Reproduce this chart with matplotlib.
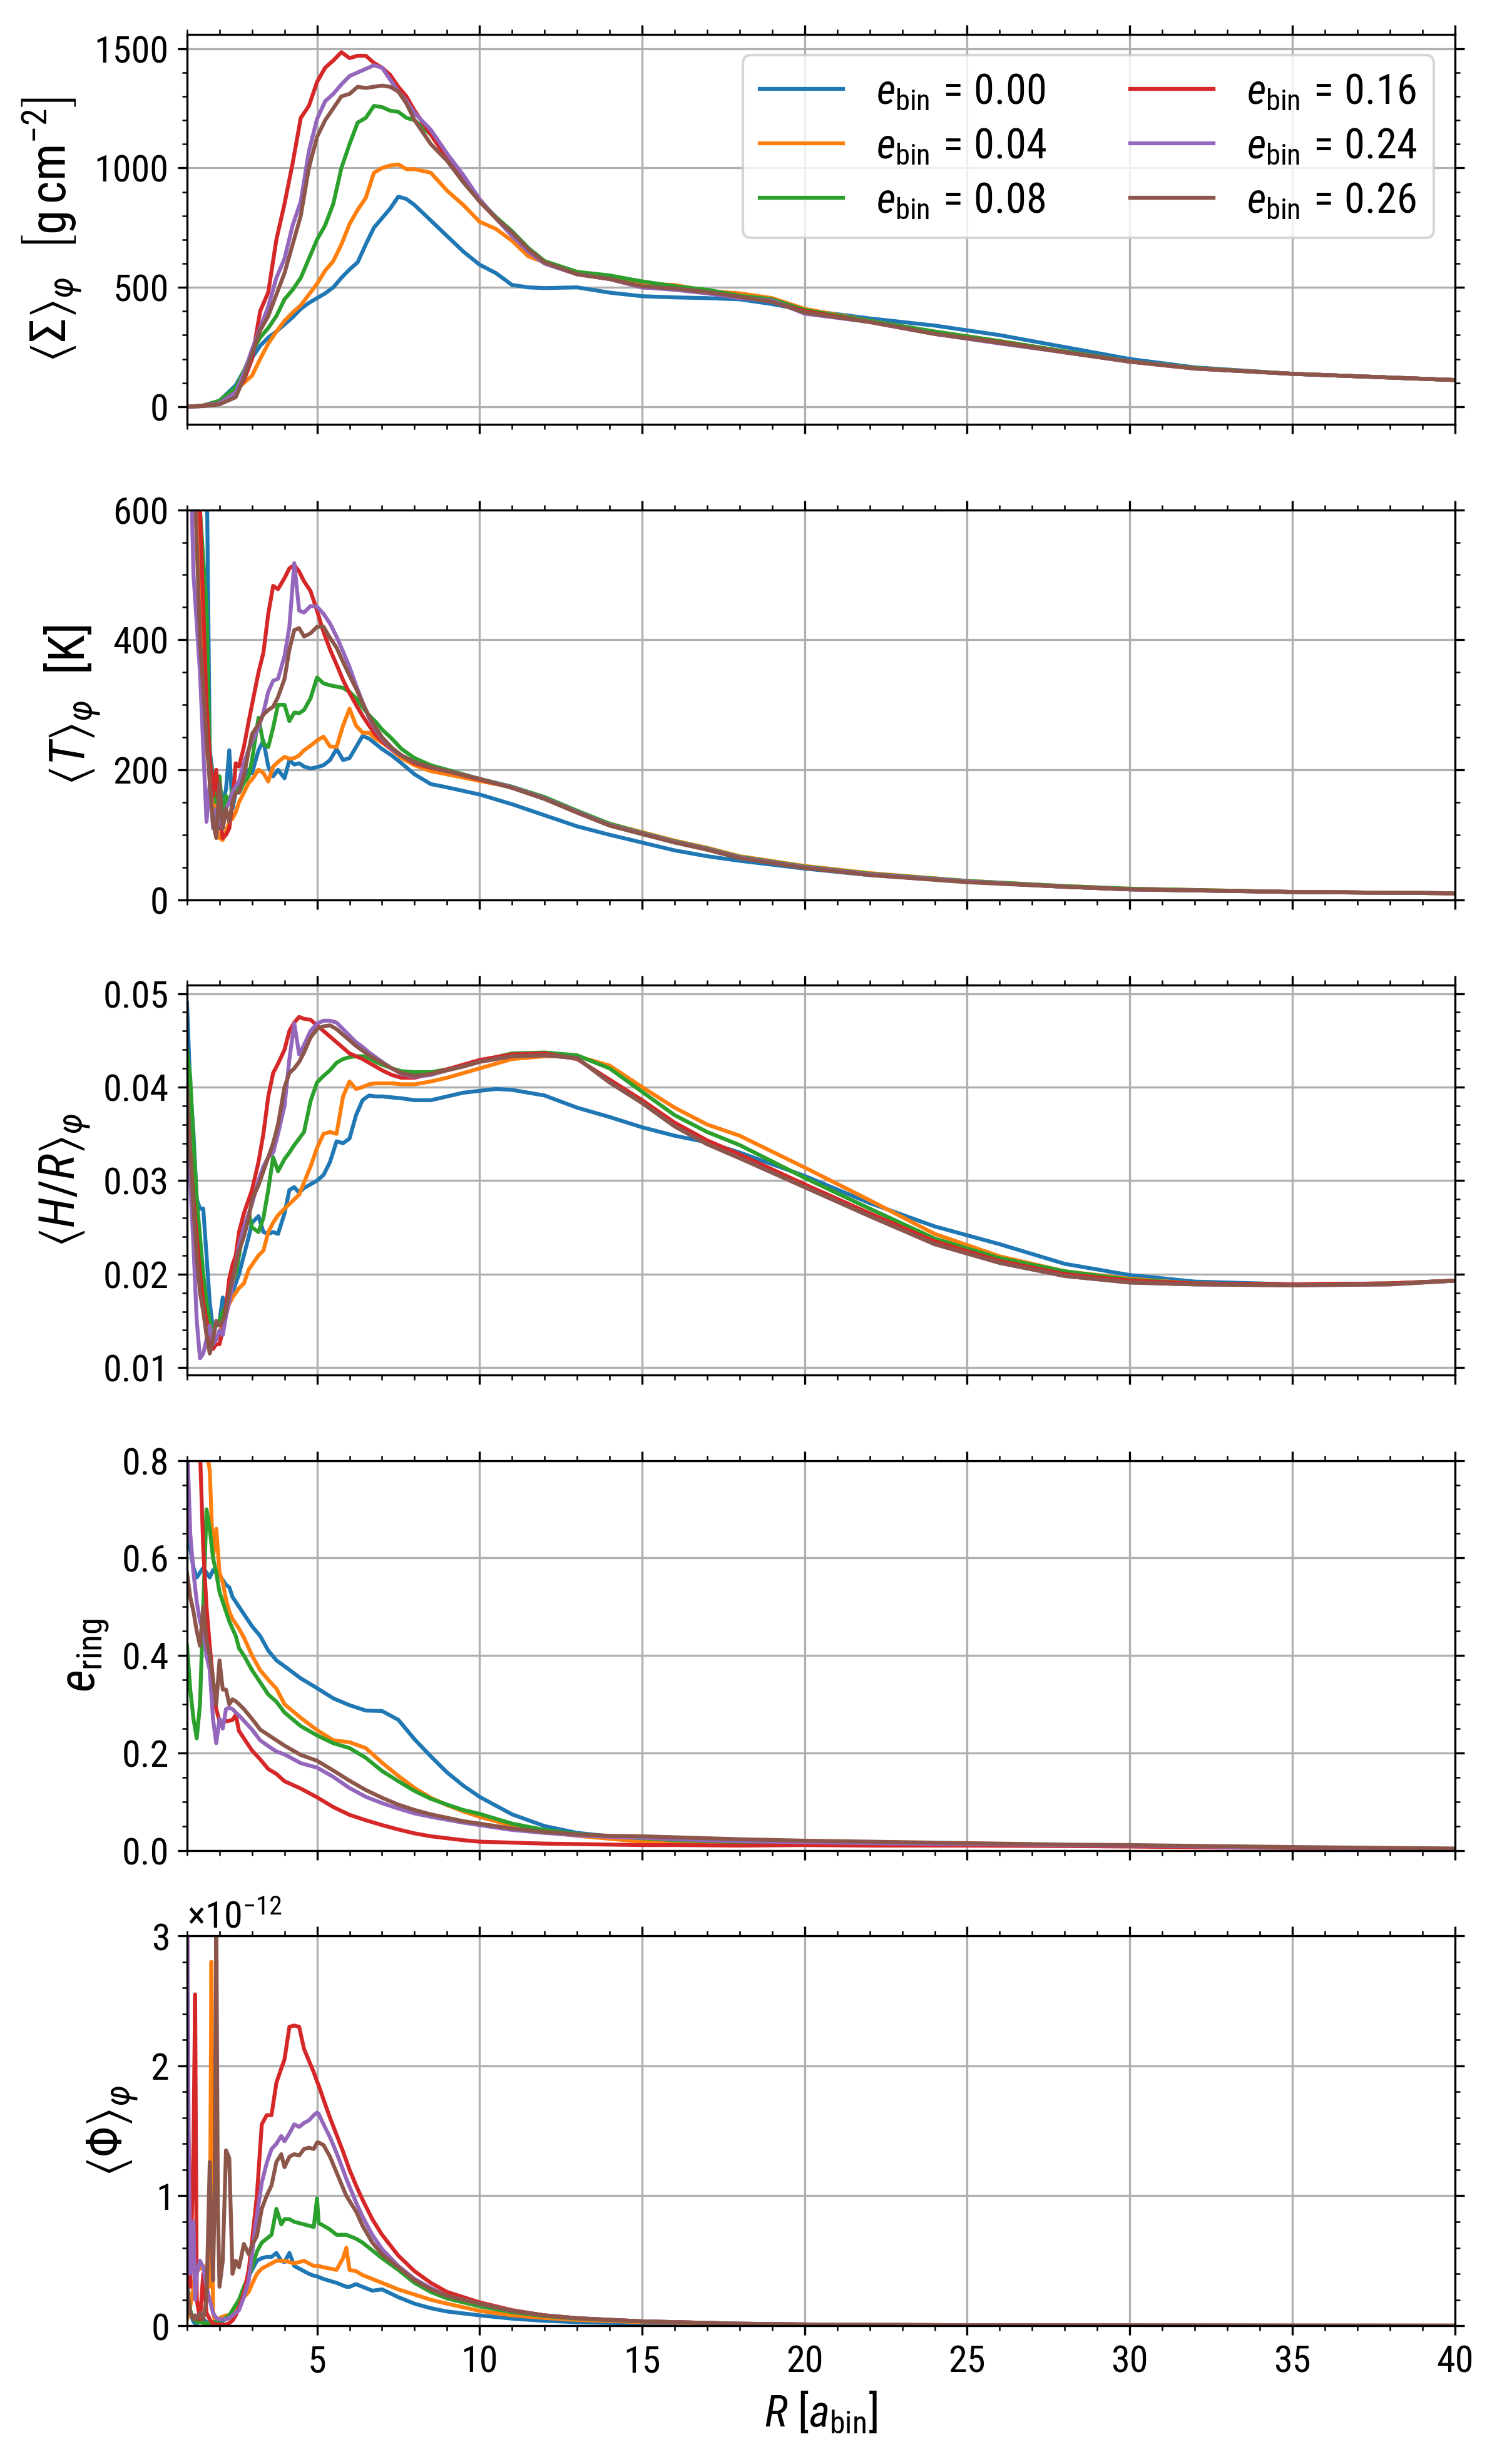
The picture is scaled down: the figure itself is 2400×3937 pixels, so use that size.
import numpy as np
import matplotlib
matplotlib.use('Agg')
import matplotlib.pyplot as plt
from matplotlib import font_manager
from matplotlib.ticker import MultipleLocator, ScalarFormatter

flist = font_manager.fontManager.ttflist
names = {f.name for f in flist}
narrow = [n for n in ['Liberation Sans Narrow', 'Roboto Condensed', 'Open Sans Condensed',
                      'Noto Sans Condensed'] if n in names]
base = narrow[0] if narrow else 'DejaVu Sans'
has_cond = any(f.name == base and str(f.stretch) in ('condensed', 'semi-condensed', '87.5', '75')
               for f in flist)
plt.rcParams['font.family'] = [base, 'DejaVu Sans']
if has_cond:
    plt.rcParams['font.stretch'] = 'condensed'
plt.rcParams['mathtext.fontset'] = 'custom'
plt.rcParams['mathtext.rm'] = base
plt.rcParams['mathtext.it'] = base + ':italic'
plt.rcParams['mathtext.bf'] = base + ':bold'
plt.rcParams['mathtext.sf'] = base
plt.rcParams['mathtext.fallback'] = 'stixsans'

ecc_labels = ['0.00', '0.04', '0.08', '0.16', '0.24', '0.26']
colors = ['C0', 'C1', 'C2', 'C3', 'C4', 'C5']

# ---------------- Panel 1: surface density ----------------
R1 = [1.0, 1.5, 2.0, 2.5, 2.75, 3.0, 3.25, 3.5, 3.75, 4.0,
      4.25, 4.5, 4.75, 5.0, 5.25, 5.5, 5.75, 6.0, 6.25, 6.5,
      6.75, 7.0, 7.25, 7.5, 7.75, 8.0, 8.5, 9.0, 9.5, 10.0,
      10.5, 11.0, 11.5, 12.0, 13.0, 14.0, 15.0, 16.0, 17.0, 18.0,
      19.0, 20.0, 22.0, 24.0, 26.0, 28.0, 30.0, 32.0, 35.0, 40.0]
sigma_000 = [0, 5, 25, 90, 150, 205, 255, 290, 315, 345,
             375, 410, 435, 455, 475, 500, 540, 575, 605, 680,
             750, 790, 830, 880, 870, 845, 780, 715, 650, 595,
             560, 510, 500, 497, 500, 478, 463, 458, 455, 450,
             430, 405, 370, 340, 300, 250, 200, 165, 138, 112]
sigma_004 = [0, 3, 20, 70, 100, 130, 200, 265, 315, 360,
             395, 425, 470, 515, 570, 610, 680, 765, 825, 875,
             980, 1000, 1010, 1015, 995, 995, 980, 905, 845, 775,
             745, 695, 630, 605, 565, 535, 515, 510, 485, 475,
             455, 410, 360, 315, 275, 232, 190, 162, 138, 112]
sigma_008 = [0, 5, 25, 80, 150, 230, 290, 330, 380, 450,
             490, 540, 620, 700, 760, 850, 1000, 1100, 1190, 1210,
             1260, 1255, 1240, 1235, 1210, 1200, 1140, 1045, 950, 865,
             795, 735, 665, 610, 565, 550, 525, 505, 490, 465,
             450, 405, 360, 315, 275, 232, 190, 162, 138, 112]
sigma_016 = [0, 5, 15, 60, 110, 200, 400, 480, 700, 850,
             1020, 1210, 1260, 1360, 1420, 1450, 1485, 1460, 1470, 1470,
             1440, 1420, 1390, 1340, 1300, 1240, 1140, 1040, 950, 860,
             790, 720, 650, 600, 555, 535, 500, 495, 480, 460,
             440, 400, 355, 305, 270, 228, 189, 160, 138, 112]
sigma_024 = [0, 3, 15, 60, 140, 240, 330, 420, 540, 620,
             760, 860, 1070, 1205, 1280, 1310, 1350, 1385, 1400, 1415,
             1430, 1420, 1370, 1320, 1280, 1230, 1160, 1060, 970, 870,
             790, 715, 650, 600, 555, 535, 500, 490, 475, 455,
             445, 390, 355, 305, 265, 228, 189, 160, 138, 112]
sigma_026 = [0, 3, 10, 40, 120, 220, 320, 380, 470, 560,
             680, 800, 1000, 1130, 1200, 1250, 1300, 1310, 1340, 1335,
             1340, 1345, 1340, 1320, 1270, 1200, 1100, 1030, 940, 860,
             790, 730, 660, 605, 555, 535, 505, 495, 480, 460,
             440, 395, 355, 305, 268, 228, 189, 160, 138, 112]

# ---------------- Panel 2: temperature ----------------
R2 = [1.0, 1.2, 1.4, 1.6, 1.7, 1.8, 1.9, 2.0, 2.1, 2.2,
      2.3, 2.4, 2.5, 2.6, 2.75, 2.9, 3.0, 3.2, 3.35, 3.5,
      3.65, 3.8, 4.0, 4.15, 4.3, 4.45, 4.6, 4.8, 5.0, 5.2,
      5.4, 5.6, 5.8, 6.0, 6.2, 6.4, 6.6, 6.8, 7.0, 7.3,
      7.6, 8.0, 8.5, 9.0, 10, 11, 12, 13, 14, 15,
      16, 17, 18, 20, 22, 25, 28, 30, 35, 40]
temp_000 = [2000, 1200, 900, 700, 230, 190, 150, 110, 150, 170,
            230, 140, 165, 175, 190, 200, 195, 230, 245, 205,
            190, 200, 187, 215, 208, 210, 205, 202, 204, 207,
            215, 232, 215, 218, 235, 252, 248, 240, 232, 222,
            210, 193, 178, 173, 162, 147, 130, 113, 100, 88,
            76, 67, 60, 48, 38, 28, 20, 16, 12, 10]
temp_004 = [1100, 700, 450, 230, 200, 180, 110, 95, 92, 105,
            120, 125, 135, 150, 165, 180, 185, 200, 195, 182,
            205, 212, 220, 217, 218, 222, 230, 237, 245, 251,
            236, 235, 268, 294, 268, 257, 257, 248, 242, 231,
            218, 207, 198, 193, 183, 173, 157, 136, 117, 104,
            91, 80, 67, 52, 41, 29, 21, 17, 12, 10]
temp_008 = [1200, 800, 600, 450, 220, 180, 150, 190, 130, 160,
            150, 170, 175, 165, 180, 190, 215, 280, 240, 235,
            265, 300, 300, 275, 288, 287, 292, 310, 342, 333,
            330, 328, 326, 320, 310, 296, 284, 274, 262, 248,
            232, 218, 207, 200, 186, 174, 158, 137, 117, 103,
            90, 79, 66, 51, 40, 29, 21, 17, 12, 10]
temp_016 = [1500, 900, 600, 300, 220, 160, 200, 130, 95, 100,
            110, 150, 210, 205, 235, 275, 300, 350, 380, 440,
            483, 478, 495, 510, 515, 505, 490, 475, 445, 412,
            385, 362, 338, 318, 300, 283, 268, 254, 244, 231,
            222, 210, 203, 198, 185, 173, 156, 135, 115, 102,
            89, 78, 65, 50, 39, 28, 20, 16, 12, 10]
temp_024 = [900, 500, 350, 120, 180, 110, 140, 120, 110, 140,
            150, 165, 175, 182, 210, 232, 243, 265, 288, 320,
            337, 340, 375, 420, 518, 445, 442, 452, 451, 440,
            425, 405, 382, 358, 330, 304, 280, 262, 248, 232,
            222, 212, 204, 198, 186, 173, 156, 135, 115, 102,
            89, 78, 65, 50, 39, 28, 20, 16, 12, 10]
temp_026 = [1000, 700, 400, 250, 180, 120, 95, 180, 110, 140,
            120, 150, 165, 165, 190, 230, 255, 270, 285, 292,
            297, 312, 340, 385, 415, 418, 405, 410, 420, 420,
            403, 388, 366, 345, 325, 303, 282, 265, 250, 234,
            222, 212, 204, 198, 186, 172, 155, 134, 114, 101,
            88, 77, 64, 49, 38, 27, 20, 16, 12, 10]

# ---------------- Panel 3: aspect ratio ----------------
R3 = [1.0, 1.1, 1.2, 1.3, 1.4, 1.5, 1.6, 1.7, 1.8, 1.9,
      2.0, 2.1, 2.2, 2.3, 2.4, 2.5, 2.6, 2.75, 2.9, 3.0,
      3.2, 3.35, 3.5, 3.65, 3.8, 4.0, 4.15, 4.3, 4.45, 4.6,
      4.8, 5.0, 5.2, 5.4, 5.6, 5.8, 6.0, 6.2, 6.4, 6.6,
      6.8, 7.0, 7.3, 7.6, 8.0, 8.5, 9.0, 9.5, 10, 10.5,
      11, 12, 13, 14, 15, 16, 17, 18, 20, 22,
      24, 26, 28, 30, 32, 35, 38, 40]
hr_000 = [0.049, 0.040, 0.035, 0.028, 0.027, 0.027, 0.022, 0.017, 0.014, 0.0145,
          0.015, 0.0175, 0.016, 0.017, 0.018, 0.019, 0.020, 0.022, 0.024, 0.0255,
          0.0262, 0.0245, 0.0243, 0.0245, 0.0243, 0.0265, 0.0290, 0.0293, 0.0287, 0.0292,
          0.0296, 0.0300, 0.0306, 0.0320, 0.0342, 0.0340, 0.0345, 0.0370, 0.0386, 0.0391,
          0.0390, 0.0390, 0.0389, 0.0388, 0.0386, 0.0386, 0.0390, 0.0394, 0.0396, 0.0398,
          0.0397, 0.0391, 0.0378, 0.0368, 0.0357, 0.0348, 0.0341, 0.0330, 0.0305, 0.0276,
          0.0251, 0.0232, 0.0211, 0.0199, 0.0192, 0.0189, 0.0190, 0.0193]
hr_004 = [0.038, 0.034, 0.030, 0.026, 0.022, 0.018, 0.0145, 0.012, 0.0125, 0.013,
          0.0135, 0.015, 0.016, 0.0168, 0.0175, 0.018, 0.0185, 0.019, 0.0205, 0.021,
          0.022, 0.0225, 0.0245, 0.0255, 0.0263, 0.027, 0.0275, 0.028, 0.0285, 0.0298,
          0.0315, 0.0335, 0.0350, 0.0352, 0.0350, 0.0390, 0.0406, 0.0398, 0.0400, 0.0403,
          0.0404, 0.0404, 0.0404, 0.0403, 0.0403, 0.0406, 0.0410, 0.0415, 0.0420, 0.0425,
          0.0430, 0.0433, 0.0433, 0.0423, 0.0400, 0.0378, 0.0360, 0.0348, 0.0314, 0.0279,
          0.0243, 0.0219, 0.0203, 0.0195, 0.0190, 0.0189, 0.0190, 0.0193]
hr_008 = [0.044, 0.041, 0.034, 0.028, 0.024, 0.020, 0.017, 0.015, 0.014, 0.0145,
          0.015, 0.016, 0.0165, 0.018, 0.019, 0.020, 0.022, 0.025, 0.0265, 0.025,
          0.0245, 0.026, 0.029, 0.0325, 0.031, 0.0323, 0.0330, 0.0338, 0.0345, 0.0352,
          0.0385, 0.0405, 0.0412, 0.0418, 0.0426, 0.0430, 0.0432, 0.0433, 0.0433, 0.0431,
          0.0427, 0.0424, 0.0420, 0.0417, 0.0416, 0.0416, 0.0419, 0.0423, 0.0428, 0.0432,
          0.0436, 0.0437, 0.0434, 0.0420, 0.0395, 0.0370, 0.0352, 0.0338, 0.0303, 0.0270,
          0.0238, 0.0217, 0.0203, 0.0194, 0.0190, 0.0189, 0.0190, 0.0193]
hr_016 = [0.039, 0.033, 0.028, 0.024, 0.020, 0.017, 0.015, 0.0135, 0.012, 0.0125,
          0.0125, 0.014, 0.0165, 0.0195, 0.021, 0.022, 0.0245, 0.0265, 0.028, 0.029,
          0.032, 0.035, 0.039, 0.0415, 0.0425, 0.0440, 0.0460, 0.0469, 0.0475, 0.0473,
          0.0472, 0.0466, 0.0460, 0.0454, 0.0448, 0.0442, 0.0436, 0.0433, 0.0430, 0.0426,
          0.0422, 0.0418, 0.0413, 0.0410, 0.0410, 0.0414, 0.0419, 0.0424, 0.0429, 0.0432,
          0.0435, 0.0436, 0.0430, 0.0408, 0.0386, 0.0362, 0.0343, 0.0328, 0.0296, 0.0265,
          0.0235, 0.0214, 0.0200, 0.0193, 0.0190, 0.0189, 0.0190, 0.0193]
hr_024 = [0.036, 0.030, 0.023, 0.015, 0.011, 0.0115, 0.013, 0.0145, 0.0125, 0.013,
          0.014, 0.0135, 0.0155, 0.017, 0.019, 0.021, 0.023, 0.025, 0.0265, 0.0275,
          0.030, 0.0315, 0.0325, 0.033, 0.035, 0.038, 0.043, 0.0468, 0.0435, 0.0445,
          0.0460, 0.0468, 0.0471, 0.0471, 0.0469, 0.0462, 0.0455, 0.0448, 0.0443, 0.0437,
          0.0432, 0.0427, 0.0420, 0.0414, 0.0411, 0.0413, 0.0418, 0.0422, 0.0427, 0.0430,
          0.0433, 0.0434, 0.0431, 0.0405, 0.0383, 0.0358, 0.0339, 0.0324, 0.0293, 0.0262,
          0.0232, 0.0212, 0.0198, 0.0191, 0.0189, 0.0188, 0.0189, 0.0193]
hr_026 = [0.040, 0.033, 0.027, 0.022, 0.018, 0.016, 0.0135, 0.0115, 0.013, 0.015,
          0.0145, 0.015, 0.016, 0.018, 0.0195, 0.021, 0.0225, 0.024, 0.026, 0.028,
          0.0295, 0.031, 0.0325, 0.034, 0.036, 0.040, 0.0415, 0.042, 0.0427, 0.0437,
          0.0453, 0.0462, 0.0465, 0.0466, 0.0462, 0.0456, 0.0450, 0.0444, 0.0439, 0.0434,
          0.0430, 0.0426, 0.0420, 0.0415, 0.0412, 0.0414, 0.0418, 0.0422, 0.0427, 0.0430,
          0.0433, 0.0434, 0.0431, 0.0405, 0.0383, 0.0358, 0.0339, 0.0324, 0.0293, 0.0262,
          0.0232, 0.0212, 0.0198, 0.0191, 0.0189, 0.0188, 0.0189, 0.0193]

# ---------------- Panel 4: ring eccentricity ----------------
R4 = [1.0, 1.1, 1.2, 1.3, 1.4, 1.5, 1.6, 1.7, 1.8, 1.9,
      2.0, 2.1, 2.2, 2.3, 2.4, 2.5, 2.6, 2.75, 3.0, 3.25,
      3.5, 3.75, 4.0, 4.5, 5.0, 5.5, 6.0, 6.5, 7.0, 7.5,
      8.0, 8.5, 9.0, 9.5, 10, 11, 12, 13, 14, 15,
      16, 18, 20, 22, 25, 28, 30, 35, 40]
ering_000 = [0.70, 0.62, 0.58, 0.56, 0.57, 0.58, 0.57, 0.56, 0.575, 0.57,
             0.565, 0.555, 0.545, 0.54, 0.52, 0.51, 0.50, 0.485, 0.46, 0.44,
             0.41, 0.39, 0.378, 0.353, 0.333, 0.312, 0.298, 0.287, 0.286, 0.268,
             0.228, 0.193, 0.160, 0.133, 0.110, 0.074, 0.050, 0.036, 0.029, 0.023,
             0.019, 0.015, 0.014, 0.013, 0.012, 0.010, 0.009, 0.006, 0.003]
ering_004 = [1.5, 1.3, 1.1, 0.95, 0.88, 0.85, 0.82, 0.78, 0.60, 0.66,
             0.57, 0.55, 0.515, 0.49, 0.475, 0.465, 0.455, 0.437, 0.40, 0.37,
             0.35, 0.332, 0.30, 0.272, 0.247, 0.226, 0.222, 0.21, 0.18, 0.153,
             0.128, 0.108, 0.093, 0.080, 0.069, 0.051, 0.038, 0.030, 0.024, 0.018,
             0.015, 0.012, 0.013, 0.013, 0.012, 0.010, 0.009, 0.006, 0.003]
ering_008 = [0.42, 0.33, 0.27, 0.23, 0.30, 0.50, 0.70, 0.66, 0.60, 0.57,
             0.53, 0.51, 0.49, 0.47, 0.455, 0.44, 0.415, 0.40, 0.37, 0.345,
             0.32, 0.305, 0.283, 0.255, 0.236, 0.22, 0.21, 0.19, 0.163, 0.142,
             0.122, 0.106, 0.094, 0.083, 0.075, 0.055, 0.042, 0.034, 0.029, 0.025,
             0.021, 0.017, 0.016, 0.014, 0.013, 0.011, 0.010, 0.006, 0.003]
ering_016 = [1.6, 1.3, 1.1, 0.95, 0.82, 0.62, 0.50, 0.42, 0.35, 0.29,
             0.265, 0.264, 0.265, 0.266, 0.268, 0.278, 0.245, 0.23, 0.205, 0.187,
             0.167, 0.157, 0.142, 0.127, 0.109, 0.089, 0.073, 0.062, 0.052, 0.043,
             0.035, 0.029, 0.025, 0.021, 0.018, 0.016, 0.014, 0.013, 0.012, 0.011,
             0.011, 0.010, 0.011, 0.010, 0.010, 0.009, 0.008, 0.005, 0.003]
ering_024 = [0.85, 0.65, 0.57, 0.51, 0.47, 0.45, 0.40, 0.37, 0.27, 0.22,
             0.27, 0.25, 0.29, 0.293, 0.29, 0.283, 0.277, 0.266, 0.248, 0.226,
             0.214, 0.203, 0.197, 0.179, 0.170, 0.151, 0.128, 0.110, 0.097, 0.086,
             0.076, 0.069, 0.063, 0.057, 0.052, 0.042, 0.036, 0.031, 0.028, 0.026,
             0.023, 0.019, 0.017, 0.015, 0.013, 0.011, 0.010, 0.006, 0.003]
ering_026 = [0.57, 0.52, 0.49, 0.45, 0.42, 0.50, 0.43, 0.40, 0.35, 0.30,
             0.39, 0.33, 0.33, 0.30, 0.31, 0.306, 0.30, 0.29, 0.27, 0.248,
             0.237, 0.226, 0.215, 0.196, 0.184, 0.164, 0.143, 0.124, 0.108, 0.094,
             0.083, 0.074, 0.067, 0.060, 0.055, 0.045, 0.038, 0.033, 0.030, 0.029,
             0.027, 0.023, 0.020, 0.018, 0.015, 0.012, 0.011, 0.007, 0.004]

# ---------------- Panel 5: Phi (in units of 1e-12) ----------------
R5 = [1.0, 1.05, 1.1, 1.2, 1.25, 1.3, 1.4, 1.5, 1.6, 1.7,
      1.75, 1.8, 1.85, 1.9, 1.95, 2.0, 2.1, 2.2, 2.3, 2.4,
      2.5, 2.6, 2.75, 2.9, 3.0, 3.15, 3.3, 3.45, 3.6, 3.75,
      3.9, 4.0, 4.15, 4.3, 4.45, 4.6, 4.75, 4.9, 5.0, 5.05,
      5.2, 5.4, 5.6, 5.8, 5.9, 6.0, 6.2, 6.4, 6.7, 7.0,
      7.5, 8.0, 8.5, 9.0, 10, 11, 12, 13, 15, 18,
      20, 25, 30, 35, 40]
phi_000 = [0.30, 0.25, 0.10, 0.03, 0.02, 0.02, 0.03, 0.05, 0.03, 0.02,
           0.03, 0.02, 0.03, 0.02, 0.02, 0.03, 0.04, 0.05, 0.06, 0.08,
           0.10, 0.14, 0.26, 0.38, 0.43, 0.50, 0.52, 0.53, 0.53, 0.56,
           0.50, 0.49, 0.56, 0.46, 0.44, 0.42, 0.40, 0.385, 0.38, 0.375,
           0.36, 0.345, 0.33, 0.31, 0.30, 0.30, 0.32, 0.30, 0.27, 0.28,
           0.22, 0.17, 0.135, 0.11, 0.08, 0.055, 0.038, 0.028, 0.016, 0.008,
           0.005, 0.002, 0.001, 0.0006, 0.0004]
phi_004 = [0.05, 0.08, 0.15, 0.30, 0.40, 0.42, 0.44, 0.46, 0.40, 0.30,
           2.80, 0.10, 0.05, 0.06, 0.05, 0.06, 0.07, 0.08, 0.08, 0.10,
           0.13, 0.17, 0.22, 0.26, 0.32, 0.40, 0.44, 0.46, 0.48, 0.50,
           0.50, 0.50, 0.49, 0.48, 0.49, 0.50, 0.48, 0.46, 0.46, 0.46,
           0.45, 0.44, 0.43, 0.52, 0.60, 0.43, 0.42, 0.39, 0.36, 0.33,
           0.28, 0.24, 0.20, 0.17, 0.115, 0.08, 0.06, 0.045, 0.028, 0.014,
           0.009, 0.004, 0.002, 0.001, 0.0006]
phi_008 = [0.10, 0.20, 0.12, 0.05, 0.04, 0.03, 0.03, 0.02, 0.02, 0.02,
           0.02, 0.02, 0.03, 0.03, 0.04, 0.04, 0.05, 0.06, 0.08, 0.12,
           0.16, 0.20, 0.30, 0.38, 0.45, 0.57, 0.64, 0.67, 0.70, 0.90,
           0.78, 0.82, 0.82, 0.80, 0.79, 0.78, 0.77, 0.76, 0.98, 0.79,
           0.77, 0.74, 0.70, 0.70, 0.70, 0.69, 0.67, 0.64, 0.58, 0.52,
           0.43, 0.33, 0.26, 0.21, 0.15, 0.105, 0.075, 0.055, 0.033, 0.016,
           0.010, 0.004, 0.002, 0.001, 0.0006]
phi_016 = [3.5, 1.0, 0.3, 1.4, 2.55, 0.2, 0.05, 0.40, 0.10, 0.05,
           0.03, 0.02, 0.01, 0.01, 0.01, 0.01, 0.01, 0.01, 0.02, 0.04,
           0.08, 0.14, 0.25, 0.43, 0.65, 1.00, 1.55, 1.62, 1.62, 1.87,
           1.98, 2.05, 2.30, 2.31, 2.30, 2.13, 2.04, 1.95, 1.88, 1.85,
           1.74, 1.60, 1.47, 1.34, 1.27, 1.20, 1.08, 0.97, 0.82, 0.70,
           0.54, 0.42, 0.33, 0.26, 0.18, 0.12, 0.08, 0.058, 0.034, 0.016,
           0.010, 0.004, 0.002, 0.001, 0.0006]
phi_024 = [3.5, 1.5, 0.4, 0.8, 0.2, 0.4, 0.5, 0.45, 0.3, 0.2,
           0.15, 0.1, 0.08, 0.06, 0.05, 0.05, 0.05, 0.05, 0.06, 0.08,
           0.10, 0.12, 0.22, 0.35, 0.55, 0.85, 1.10, 1.25, 1.36, 1.40,
           1.46, 1.42, 1.48, 1.55, 1.53, 1.56, 1.58, 1.62, 1.64, 1.63,
           1.55, 1.45, 1.33, 1.20, 1.13, 1.07, 0.95, 0.84, 0.70, 0.59,
           0.46, 0.36, 0.29, 0.23, 0.17, 0.115, 0.08, 0.058, 0.034, 0.016,
           0.010, 0.004, 0.002, 0.001, 0.0006]
phi_026 = [0.30, 0.20, 0.10, 0.05, 0.08, 0.05, 0.10, 0.05, 0.20, 1.26,
           0.70, 0.35, 1.00, 3.20, 0.90, 0.30, 0.50, 1.35, 1.29, 0.40,
           0.50, 0.45, 0.63, 0.55, 0.62, 0.69, 0.90, 1.00, 1.08, 1.26,
           1.32, 1.22, 1.30, 1.32, 1.31, 1.36, 1.37, 1.36, 1.41, 1.41,
           1.39, 1.30, 1.18, 1.06, 1.00, 0.96, 0.88, 0.77, 0.64, 0.55,
           0.45, 0.35, 0.28, 0.23, 0.17, 0.115, 0.08, 0.058, 0.034, 0.016,
           0.010, 0.004, 0.002, 0.001, 0.0006]

panels = [
    (R1, [sigma_000, sigma_004, sigma_008, sigma_016, sigma_024, sigma_026], 1.0),
    (R2, [temp_000, temp_004, temp_008, temp_016, temp_024, temp_026], 1.0),
    (R3, [hr_000, hr_004, hr_008, hr_016, hr_024, hr_026], 1.0),
    (R4, [ering_000, ering_004, ering_008, ering_016, ering_024, ering_026], 1.0),
    (R5, [phi_000, phi_004, phi_008, phi_016, phi_024, phi_026], 1e-12),
]
ylabels = [r'$\langle\Sigma\rangle_\varphi\ \ \left[\mathrm{g\,cm^{-2}}\right]$',
           r'$\langle T\rangle_\varphi\ \ [\mathrm{K}]$',
           r'$\langle H/R\rangle_\varphi$',
           r'$e_\mathrm{ring}$',
           r'$\langle\Phi\rangle_\varphi$']
ylims = [(-74, 1559), (0, 600), (0.0092, 0.0509), (0, 0.8), (0, 3e-12)]
ysteps = [500, 200, 0.01, 0.2, 1e-12]

fig, axes = plt.subplots(5, 1, sharex=True, figsize=(8, 3937 / 300), dpi=300)
fig.subplots_adjust(left=0.1245, right=0.9686, top=0.986, bottom=0.0561, hspace=0.219)

for i, ax in enumerate(axes):
    R, series, scale = panels[i]
    for vals, col, lab in zip(series, colors, ecc_labels):
        ax.plot(R, np.asarray(vals) * scale, color=col, lw=1.5,
                label=r'$e_\mathrm{bin}\,=\,%s$' % lab)
    ax.set_xlim(1, 40)
    ax.set_ylim(*ylims[i])
    ax.xaxis.set_major_locator(MultipleLocator(5))
    ax.yaxis.set_major_locator(MultipleLocator(ysteps[i]))
    ax.minorticks_on()
    ax.tick_params(which='both', direction='out', top=True, right=True, labelsize=14.5)
    ax.grid(True, which='major', color='#b0b0b0', lw=0.8)
    ax.set_ylabel(ylabels[i], fontsize=19)

fmt = ScalarFormatter(useMathText=True)
fmt.set_powerlimits((0, 0))
axes[4].yaxis.set_major_formatter(fmt)
axes[4].yaxis.get_offset_text().set_fontsize(14.5)
axes[4].set_xlabel(r'$R\ [a_\mathrm{bin}]$', fontsize=17)

axes[0].legend(ncol=2, loc='upper right', fontsize=16, handlelength=2.0,
               labelspacing=0.35, columnspacing=2.0, handletextpad=0.8)

fig.savefig('out.png', dpi=300)
